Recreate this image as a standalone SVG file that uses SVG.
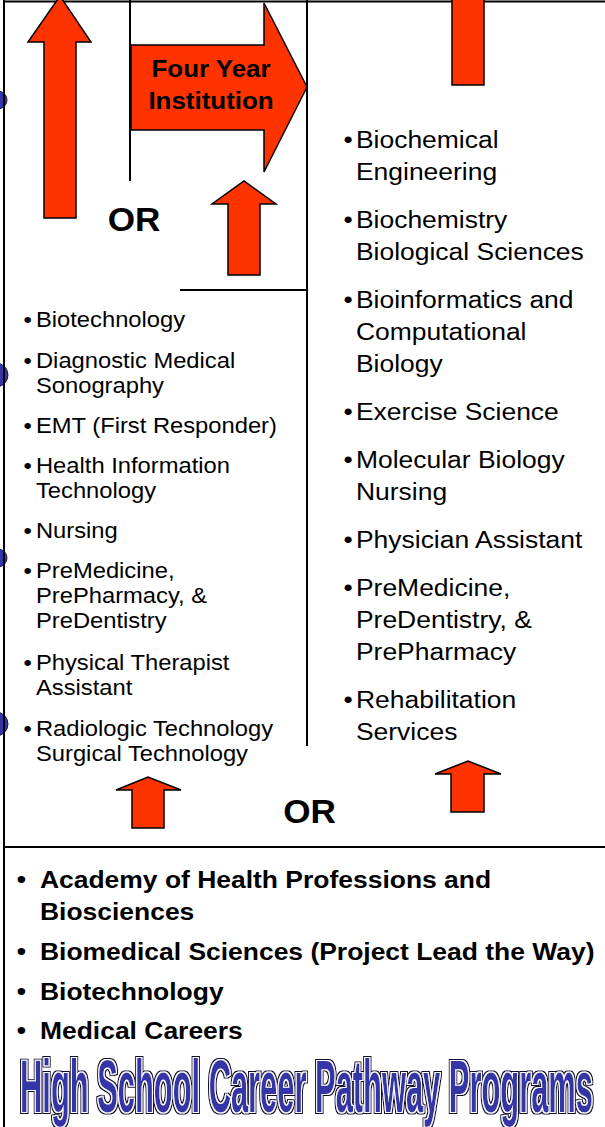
<svg xmlns="http://www.w3.org/2000/svg" width="605" height="1127" viewBox="0 0 605 1127">
<style>
.ln{stroke:#000;stroke-width:2;fill:none}
.arr{fill:#ff3300;stroke:#000;stroke-width:1.5;stroke-linejoin:miter}
.dot{fill:#3535a8;stroke:#1a1a60;stroke-width:1}
.reg{font-family:"Liberation Sans",Arial,sans-serif;fill:#000}
.bold{font-family:"Liberation Sans",Arial,sans-serif;font-weight:bold;fill:#000}
.l{font-size:22px}
.r{font-size:24.5px}
.b{font-size:24.5px}
.or{font-size:32.5px;text-anchor:middle}
.fy{font-size:24px;text-anchor:middle}
.title{font-family:"Liberation Sans",Arial,sans-serif;font-weight:bold;font-size:74px;fill:#3636a8}
</style>
<defs>
<filter id="outline" x="-2%" y="-10%" width="104%" height="120%">
<feMorphology in="SourceAlpha" operator="dilate" radius="4.5 2" result="outer"/>
<feFlood flood-color="#0a0a30" result="c1"/>
<feComposite in="c1" in2="outer" operator="in" result="black"/>
<feMorphology in="SourceAlpha" operator="dilate" radius="2.2 1" result="inner"/>
<feFlood flood-color="#ffffff" result="c2"/>
<feComposite in="c2" in2="inner" operator="in" result="white"/>
<feMerge><feMergeNode in="black"/><feMergeNode in="white"/><feMergeNode in="SourceGraphic"/></feMerge>
</filter>
</defs>
<rect width="605" height="1127" fill="#fff"/>

<g id="markers">
<circle class="dot" cx="-2" cy="100" r="9"/>
<circle class="dot" cx="-4" cy="375" r="12"/>
<circle class="dot" cx="-2" cy="558" r="9"/>
<circle class="dot" cx="-4" cy="724" r="12"/>
</g>

<g id="frame">
<line class="ln" x1="4" y1="0" x2="4" y2="1127"/>
<line class="ln" x1="4" y1="1.5" x2="605" y2="1.5"/>
<line class="ln" x1="130" y1="0" x2="130" y2="181"/>
<line class="ln" x1="307" y1="0" x2="307" y2="746"/>
<line class="ln" x1="180" y1="290" x2="307" y2="290"/>
<line class="ln" x1="4" y1="847" x2="605" y2="847"/>
</g>

<g id="connectors">
<polygon class="arr" points="44,218 44,42 28,42 60,-4 91,42 76,42 76,218"/>
<polygon class="arr" points="228,275 228,204 212,204 244,181 276,204 260,204 260,275"/>
<rect class="arr" x="452" y="-3" width="32" height="88"/>
<polygon class="arr" points="132,828 132,790 116,790 148,777 181,790 164,790 164,828"/>
<polygon class="arr" points="451,812 451,774 435,774 468,761 501,774 484,774 484,812"/>
</g>

<g id="four-year-institution">
<polygon class="arr" points="131,45 264,45 264,3 307,87 264,172 264,130 131,130"/>
<g transform="scale(1.08 1)">
<text class="bold fy" x="195.4" y="77">Four Year</text>
<text class="bold fy" x="195.4" y="109">Institution</text>
</g>
</g>

<g id="or-labels" transform="scale(1.08 1)">
<text class="bold or" x="124.1" y="231">OR</text>
<text class="bold or" x="286.6" y="823">OR</text>
</g>

<g id="two-year-programs" transform="scale(1.08 1)">
<g class="reg l">
<text x="21.8" y="327">•</text><text x="33.3" y="327">Biotechnology</text>
<text x="21.8" y="368">•</text><text x="33.3" y="368">Diagnostic Medical</text>
<text x="33.3" y="393">Sonography</text>
<text x="21.8" y="433">•</text><text x="33.3" y="433">EMT (First Responder)</text>
<text x="21.8" y="473">•</text><text x="33.3" y="473">Health Information</text>
<text x="33.3" y="498">Technology</text>
<text x="21.8" y="538">•</text><text x="33.3" y="538">Nursing</text>
<text x="21.8" y="578">•</text><text x="33.3" y="578">PreMedicine,</text>
<text x="33.3" y="603">PrePharmacy, &amp;</text>
<text x="33.3" y="628">PreDentistry</text>
<text x="21.8" y="670">•</text><text x="33.3" y="670">Physical Therapist</text>
<text x="33.3" y="695">Assistant</text>
<text x="21.8" y="736">•</text><text x="33.3" y="736">Radiologic Technology</text>
<text x="33.3" y="761">Surgical Technology</text>
</g>
</g>

<g id="four-year-programs" transform="scale(1.08 1)">
<g class="reg r">
<text x="318" y="148">•</text><text x="329.6" y="148">Biochemical</text>
<text x="329.6" y="180">Engineering</text>
<text x="318" y="228">•</text><text x="329.6" y="228">Biochemistry</text>
<text x="329.6" y="260">Biological Sciences</text>
<text x="318" y="308">•</text><text x="329.6" y="308">Bioinformatics and</text>
<text x="329.6" y="340">Computational</text>
<text x="329.6" y="372">Biology</text>
<text x="318" y="420">•</text><text x="329.6" y="420">Exercise Science</text>
<text x="318" y="468">•</text><text x="329.6" y="468">Molecular Biology</text>
<text x="329.6" y="500">Nursing</text>
<text x="318" y="548">•</text><text x="329.6" y="548">Physician Assistant</text>
<text x="318" y="596">•</text><text x="329.6" y="596">PreMedicine,</text>
<text x="329.6" y="628">PreDentistry, &amp;</text>
<text x="329.6" y="660">PrePharmacy</text>
<text x="318" y="708">•</text><text x="329.6" y="708">Rehabilitation</text>
<text x="329.6" y="740">Services</text>
</g>
</g>

<g id="high-school-programs" transform="scale(1.08 1)">
<g class="bold b">
<text x="15.5" y="888">•</text><text x="37" y="888">Academy of Health Professions and</text>
<text x="37" y="920">Biosciences</text>
<text x="15.5" y="960">•</text><text x="37" y="960">Biomedical Sciences (Project Lead the Way)</text>
<text x="15.5" y="1000">•</text><text x="37" y="1000">Biotechnology</text>
<text x="15.5" y="1039">•</text><text x="37" y="1039">Medical Careers</text>
</g>
</g>

<g id="title" transform="scale(0.4172 1)">
<text class="title" x="48" y="1112" filter="url(#outline)">High School Career Pathway Programs</text>
</g>
</svg>
